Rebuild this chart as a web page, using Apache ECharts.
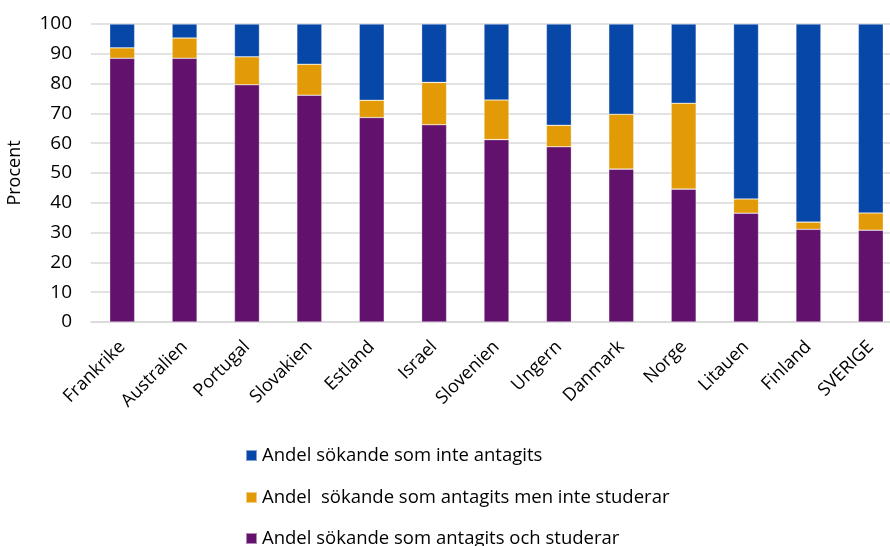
<!DOCTYPE html>
<html>
<head>
<meta charset="utf-8">
<script src="https://cdn.jsdelivr.net/npm/echarts@6/dist/echarts.min.js"></script>
<style>
html, body { margin: 0; padding: 0; background: #fff; }
#chart { width: 890px; height: 546px; }
</style>
</head>
<body>
<div id="chart"></div>
<script>
// länder och andelar (procent)
var countries = ['Frankrike', 'Australien', 'Portugal', 'Slovakien', 'Estland', 'Israel',
    'Slovenien', 'Ungern', 'Danmark', 'Norge', 'Litauen', 'Finland', 'SVERIGE'];
var studerar = [88.5, 88.5, 79.6, 76.1, 68.6, 66.2, 61.2, 58.8, 51.3, 44.6, 36.5, 31.1, 30.8];
var antagitsEjStuderar = [3.5, 6.8, 9.4, 10.4, 5.8, 14.2, 13.3, 7.2, 18.4, 28.8, 4.8, 2.4, 5.8];
var inteAntagits = [8.0, 4.7, 11.0, 13.5, 25.6, 19.6, 25.5, 34.0, 30.3, 26.6, 58.7, 66.5, 63.4];
var yTicks = [0, 10, 20, 30, 40, 50, 60, 70, 80, 90, 100];

var names = ['Andel sökande som inte antagits',
    'Andel  sökande som antagits men inte studerar',
    'Andel sökande som antagits och studerar'];

var myChart = echarts.init(document.getElementById('chart'));
var font = '"Open Sans", "DejaVu Sans", sans-serif';

function barSerie(name, data, color) {
    return {
        name: name,
        type: 'bar',
        stack: 'tot',
        barWidth: 25,
        data: data,
        itemStyle: { color: color, borderColor: 'rgba(255,255,255,0.5)', borderWidth: 0.6 }
    };
}

// en legend per rad, så att raderna hamnar som i originalet
function legendRow(name, top) {
    return {
        orient: 'vertical',
        left: 240,
        top: top,
        itemWidth: 11,
        itemHeight: 11,
        icon: 'rect',
        data: [name],
        textStyle: { fontSize: 18.5, color: '#000', fontFamily: font }
    };
}

var option = {
    animation: false,
    textStyle: { fontFamily: font },
    // plotytan går lite utanför bilden till höger, som i originalet
    grid: { left: 91, right: -12, top: 24, bottom: 224, outerBoundsMode: 'none', containLabel: false },
    legend: [
        legendRow(names[0], 441),
        legendRow(names[1], 483),
        legendRow(names[2], 524)
    ],
    xAxis: {
        type: 'category',
        data: countries,
        axisLine: { lineStyle: { color: '#d9d9d9', width: 1.5 } },
        axisTick: { show: false },
        axisLabel: { rotate: 45, fontSize: 18, color: '#000', margin: 22, interval: 0 }
    },
    yAxis: {
        type: 'value',
        min: yTicks[0],
        max: yTicks[yTicks.length - 1],
        interval: 10,
        name: 'Procent',
        nameLocation: 'middle',
        nameGap: 67,
        nameRotate: 90,
        nameTextStyle: { fontSize: 18, color: '#000' },
        axisLine: { show: false },
        axisTick: { show: false },
        splitLine: { lineStyle: { color: '#d9d9d9', width: 1.5 } },
        axisLabel: { fontSize: 19, color: '#000', margin: 19 }
    },
    series: [
        barSerie(names[2], studerar, '#62116d'),
        barSerie(names[1], antagitsEjStuderar, '#e29b07'),
        barSerie(names[0], inteAntagits, '#0747a8')
    ]
};

myChart.setOption(option);
</script>
</body>
</html>
